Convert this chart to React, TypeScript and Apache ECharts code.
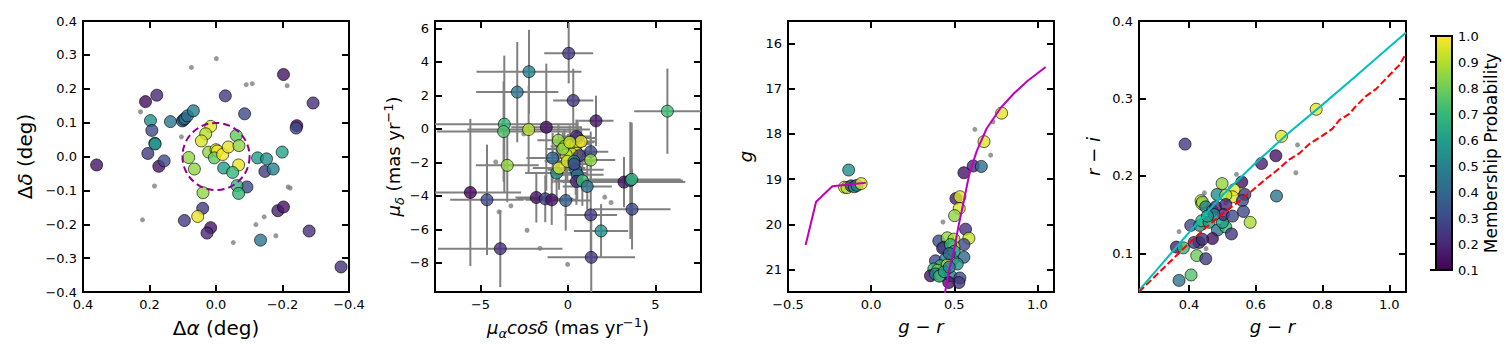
import React, { useEffect, useRef } from 'react';
import * as echarts from 'echarts';

// ---------------- data ----------------
// Panel 1: sky positions of candidate members [dRA, dDec, prob]
const posMembers: number[][] = [
  [0.359, -0.025, 0.15], [0.212, 0.162, 0.13], [0.178, 0.181, 0.2], [0.197, 0.106, 0.55],
  [0.193, 0.077, 0.3], [0.184, 0.039, 0.58], [0.183, 0.037, 0.55], [0.205, 0.009, 0.25],
  [0.172, -0.029, 0.15], [0.156, -0.013, 0.3], [0.137, 0.103, 0.45], [0.101, 0.105, 0.4],
  [0.097, 0.109, 0.4], [0.093, 0.112, 0.42], [0.086, 0.12, 0.42], [0.068, 0.135, 0.48],
  [-0.028, 0.179, 0.25], [-0.086, 0.126, 0.3], [-0.203, 0.242, 0.15], [-0.292, 0.158, 0.22],
  [-0.243, 0.091, 0.12], [-0.241, 0.084, 0.3], [0.016, 0.089, 0.97], [0.031, 0.067, 0.9],
  [0.044, 0.046, 0.95], [0.022, 0.013, 0.85], [0.0, 0.02, 0.95], [-0.004, 0.016, 0.98],
  [0.005, -0.004, 0.78], [-0.02, 0.006, 1.0], [-0.037, 0.028, 0.97], [-0.061, 0.062, 0.78],
  [-0.069, 0.032, 0.85], [-0.068, -0.025, 0.97], [-0.023, -0.034, 0.6], [-0.05, -0.047, 0.7],
  [0.082, -0.003, 0.85], [0.065, -0.037, 0.85], [-0.125, -0.004, 0.6], [-0.152, -0.007, 0.55],
  [-0.199, 0.013, 0.62], [-0.147, -0.044, 0.25], [-0.172, -0.037, 0.5], [-0.093, -0.09, 0.3],
  [-0.063, -0.086, 0.7], [-0.068, -0.109, 0.7], [0.039, -0.107, 0.85], [0.04, -0.153, 0.25],
  [0.055, -0.177, 0.97], [0.095, -0.189, 0.25], [0.016, -0.21, 0.15], [0.027, -0.226, 0.2],
  [-0.186, -0.16, 0.18], [-0.203, -0.149, 0.15], [-0.28, -0.22, 0.22], [-0.134, -0.247, 0.45],
  [-0.376, -0.326, 0.22],
];
const posField: number[][] = [
  [-0.001, 0.289], [0.074, 0.263], [-0.091, 0.212], [-0.109, 0.215], [-0.214, 0.209],
  [0.227, 0.132], [0.104, 0.058], [0.185, -0.087], [-0.217, -0.09], [-0.223, -0.093],
  [0.221, -0.187], [-0.052, -0.254], [-0.12, -0.201], [-0.145, -0.178], [-0.18, -0.234],
];
// dashed circle: [centre dRA, centre dDec, radius]
const tidalCircle: number[][] = [[0, 0, 0.1]];

// Panel 2: proper motions [pmra, pmdec, xerr, yerr, prob]
const pmMembers: number[][] = [
  [0.04, 4.52, 1.4, 1.8, 0.25], [-2.23, 3.42, 3.0, 2.5, 0.5], [-2.9, 2.2, 2.35, 3.0, 0.45],
  [0.3, 1.7, 1.15, 1.9, 0.25], [5.68, 1.06, 1.9, 2.55, 0.72], [1.6, 0.48, 1.0, 1.5, 0.15],
  [-3.64, 0.28, 4.2, 4.1, 0.7], [-3.68, -0.16, 3.8, 3.0, 0.75], [-2.25, -0.04, 3.5, 2.6, 0.9],
  [-1.24, 0.1, 2.0, 3.8, 0.15], [-3.47, -2.18, 1.8, 2.2, 0.85], [-5.58, -3.8, 2.9, 4.4, 0.12],
  [-4.63, -4.24, 2.1, 3.3, 0.3], [-1.81, -4.1, 1.2, 1.5, 0.15], [-1.3, -4.18, 1.6, 1.4, 0.28],
  [-0.93, -4.24, 1.5, 1.5, 0.15], [-0.13, -4.28, 1.4, 1.8, 0.38], [-3.87, -7.16, 3.55, 2.3, 0.22],
  [1.33, -7.68, 2.5, 2.5, 0.25], [1.3, -5.14, 1.5, 2.5, 0.25], [1.89, -6.1, 1.55, 1.6, 0.55],
  [3.66, -4.8, 2.2, 2.4, 0.3], [3.2, -3.18, 3.5, 1.5, 0.15], [3.56, -3.08, 3.0, 3.5, 0.35],
  [3.64, -3.02, 2.8, 3.4, 0.7],
  [-0.88, -1.74, 1.5, 1.5, 0.4], [-0.65, -2.64, 1.8, 1.6, 0.55], [-0.51, -2.34, 1.5, 1.3, 0.95],
  [-0.55, -0.68, 1.2, 1.0, 0.85], [-0.2, -1.05, 0.8, 1.0, 0.9], [0.0, -1.2, 0.8, 0.9, 0.97],
  [0.15, -1.0, 0.9, 0.9, 0.95], [0.3, -1.3, 0.7, 0.8, 1.0], [0.45, -0.9, 0.8, 0.8, 0.95],
  [0.6, -0.8, 0.9, 0.9, 0.98], [0.55, -0.55, 1.0, 1.1, 0.5], [0.48, -0.45, 0.8, 1.0, 0.2],
  [0.75, -0.75, 0.8, 0.9, 0.97], [0.5, -1.45, 0.7, 0.8, 0.95], [0.2, -1.5, 0.8, 0.9, 0.92],
  [-0.1, -1.55, 0.9, 1.0, 0.93], [0.65, -1.6, 0.9, 1.0, 0.25], [1.3, -1.36, 1.0, 1.2, 0.3],
  [1.3, -1.86, 1.4, 1.3, 0.85], [-0.04, -1.94, 1.3, 1.2, 0.95], [0.34, -1.94, 1.2, 1.4, 0.55],
  [0.44, -2.44, 1.6, 1.5, 0.45], [0.53, -2.74, 1.5, 1.5, 0.42], [0.48, -3.14, 1.3, 1.4, 0.2],
  [0.82, -3.1, 1.6, 1.5, 0.72], [1.1, -3.44, 1.4, 1.4, 0.45], [0.35, -2.1, 1.0, 1.2, 0.3],
  [-0.3, -1.2, 1.0, 1.0, 0.85], [0.1, -0.8, 0.9, 1.0, 0.93],
];
const pmField: number[][] = [
  [-4.13, -1.98], [-2.53, -0.3], [-3.94, -4.96], [-3.26, -4.6], [-2.34, -6.06],
  [-1.6, -7.14], [-0.02, -8.1], [2.1, -4.08], [2.46, -4.4],
];

// Panel 3: colour-magnitude diagram [g-r, g, prob]
const cmdMembers: number[][] = [
  [-0.16, 19.18, 0.95], [-0.145, 19.19, 0.9], [-0.12, 19.15, 0.25], [-0.1, 19.17, 0.55],
  [-0.085, 19.14, 0.45], [-0.06, 19.1, 0.95], [-0.135, 18.8, 0.55],
  [0.785, 17.54, 0.97], [0.679, 18.17, 0.95], [0.614, 18.71, 0.2], [0.663, 18.72, 0.42],
  [0.558, 18.86, 0.15], [0.51, 19.43, 0.18], [0.534, 19.39, 0.95], [0.53, 19.65, 0.95],
  [0.502, 19.81, 0.85], [0.568, 20.11, 0.22], [0.588, 20.31, 0.92], [0.407, 20.37, 0.3],
  [0.458, 20.3, 0.85], [0.498, 20.33, 0.9], [0.558, 20.45, 0.3], [0.437, 20.51, 0.65],
  [0.43, 20.53, 0.2], [0.498, 20.5, 0.95], [0.478, 20.45, 0.7], [0.558, 20.73, 0.4],
  [0.387, 20.81, 0.3], [0.448, 20.77, 0.5], [0.49, 20.78, 0.75], [0.417, 20.92, 0.7],
  [0.458, 20.9, 0.88], [0.518, 20.88, 0.55], [0.377, 20.99, 0.7], [0.4, 21.02, 0.8],
  [0.357, 21.14, 0.15], [0.387, 21.1, 0.5], [0.42, 21.13, 0.88], [0.478, 21.14, 0.45],
  [0.534, 21.19, 0.3], [0.528, 21.29, 0.25], [0.467, 21.29, 0.15], [0.41, 21.15, 0.65],
  [0.44, 21.05, 0.6], [0.47, 20.95, 0.5], [0.5, 20.6, 0.6], [0.47, 20.65, 0.4],
];
const cmdField: number[][] = [[0.624, 17.9], [0.733, 17.73], [0.719, 18.47], [0.432, 19.95]];
const isoHB: number[][] = [[-0.394, 20.46], [-0.331, 19.5], [-0.233, 19.16], [-0.032, 19.08]];
const isoRGB: number[][] = [
  [0.435, 21.7], [0.47, 21.0], [0.498, 20.59], [0.525, 20.05], [0.558, 19.48], [0.59, 18.9],
  [0.635, 18.38], [0.695, 17.88], [0.78, 17.42], [0.86, 17.1], [0.94, 16.83], [1.05, 16.52],
];

// Panel 4: colour-colour diagram [g-r, r-i, prob]
const ccMembers: number[][] = [
  [0.388, 0.241, 0.25], [0.781, 0.286, 0.97], [0.677, 0.251, 0.95], [0.66, 0.226, 0.15],
  [0.617, 0.216, 0.18], [0.662, 0.174, 0.45], [0.499, 0.19, 0.85], [0.558, 0.192, 0.15],
  [0.535, 0.182, 0.97], [0.53, 0.173, 0.95], [0.567, 0.176, 0.25], [0.56, 0.168, 0.3],
  [0.484, 0.176, 0.55], [0.51, 0.175, 0.9], [0.436, 0.168, 0.93], [0.438, 0.164, 0.9],
  [0.44, 0.166, 0.85], [0.45, 0.16, 0.5], [0.47, 0.155, 0.45], [0.48, 0.16, 0.2],
  [0.51, 0.163, 0.2], [0.583, 0.14, 0.88], [0.563, 0.154, 0.3], [0.405, 0.136, 0.3],
  [0.432, 0.136, 0.55], [0.438, 0.142, 0.7], [0.46, 0.14, 0.62], [0.485, 0.13, 0.45],
  [0.51, 0.134, 0.7], [0.5, 0.14, 0.6], [0.527, 0.125, 0.25], [0.503, 0.15, 0.2],
  [0.53, 0.148, 0.3], [0.47, 0.119, 0.15], [0.43, 0.114, 0.2], [0.415, 0.114, 0.25],
  [0.44, 0.118, 0.22], [0.362, 0.108, 0.18], [0.383, 0.107, 0.7], [0.423, 0.097, 0.8],
  [0.45, 0.093, 0.25], [0.406, 0.072, 0.75], [0.37, 0.065, 0.45], [0.475, 0.15, 0.5],
  [0.455, 0.148, 0.6],
];
const ccField: number[][] = [
  [0.542, 0.202], [0.446, 0.178], [0.37, 0.128], [0.451, 0.106], [0.725, 0.24], [0.72, 0.204], [0.51, 0.165],
];
const ccCyan: number[][] = [
  [0.25, 0.052], [0.3, 0.077], [0.4, 0.127], [0.5, 0.175], [0.6, 0.217], [0.7, 0.256],
  [0.8, 0.292], [0.9, 0.329], [1.05, 0.385],
];
const ccRed: number[][] = [
  [0.25, 0.05], [0.3, 0.071], [0.35, 0.092], [0.4, 0.113], [0.45, 0.133], [0.5, 0.151],
  [0.55, 0.167], [0.6, 0.185], [0.63, 0.196], [0.66, 0.206], [0.7, 0.221], [0.73, 0.229],
  [0.76, 0.241], [0.8, 0.252], [0.83, 0.261], [0.85, 0.272], [0.88, 0.28], [0.9, 0.29],
  [0.93, 0.303], [0.96, 0.312], [1.0, 0.33], [1.03, 0.343], [1.05, 0.358],
];

// tick values
const p1TicksX = [-0.4, -0.2, 0, 0.2, 0.4];
const p1TicksY = [-0.4, -0.3, -0.2, -0.1, 0, 0.1, 0.2, 0.3, 0.4];
const p2TicksX = [-5, 0, 5];
const p2TicksY = [-8, -6, -4, -2, 0, 2, 4, 6];
const p3TicksX = [-0.5, 0, 0.5, 1.0];
const p3TicksY = [16, 17, 18, 19, 20, 21];
const p4TicksX = [0.4, 0.6, 0.8, 1.0];
const p4TicksY = [0.1, 0.2, 0.3, 0.4];
const cbTicks = [0.1, 0.2, 0.3, 0.4, 0.5, 0.6, 0.7, 0.8, 0.9, 1.0];
const P_MIN = 0.1;
const P_MAX = 1.0;

// ---------------- helpers ----------------
const VIRIDIS = ['#440154', '#482878', '#3e4a89', '#31688e', '#26828e', '#1f9e89', '#35b779', '#6dcd59', '#b4de2c', '#fde725'];
const hex = (h: string) => [parseInt(h.slice(1, 3), 16), parseInt(h.slice(3, 5), 16), parseInt(h.slice(5, 7), 16)];
function viridis(p: number): string {
  let t = (p - P_MIN) / (P_MAX - P_MIN);
  t = Math.max(0, Math.min(1, t));
  const s = t * (VIRIDIS.length - 1);
  const i = Math.min(Math.floor(s), VIRIDIS.length - 2);
  const f = s - i;
  const a = hex(VIRIDIS[i]);
  const b = hex(VIRIDIS[i + 1]);
  const c = a.map((v, k) => Math.round(v + (b[k] - v) * f));
  return `rgb(${c[0]},${c[1]},${c[2]})`;
}
const FONT = 'DejaVu Sans';
const minus = (s: string) => s.replace('-', '\u2212');
const fmt1 = (v: number) => minus((Math.abs(v) < 1e-9 ? 0 : v).toFixed(1));
const fmt0 = (v: number) => minus(String(Math.round(v)));

const makeRich = (size: number) => ({
  t: { fontFamily: FONT, fontSize: size, color: '#000', lineHeight: size + 6 },
  i: { fontFamily: FONT, fontSize: size, fontStyle: 'italic', color: '#000', lineHeight: size + 6 },
  sub: { fontFamily: FONT, fontSize: 13, fontStyle: 'italic', color: '#000', lineHeight: 14, verticalAlign: 'bottom' },
  sup: { fontFamily: FONT, fontSize: 13, color: '#000', lineHeight: 14, verticalAlign: 'top' },
});

function axisPair(dim: 'x' | 'y', gridIndex: number, min: number, max: number, ticks: number[], fmt: (v: number) => string,
  name: string, nameGap: number, inverse = false, nameSize = 18) {
  const base: any = {
    type: 'value', gridIndex, min, max, inverse,
    axisLine: { show: true, onZero: false, lineStyle: { color: '#000', width: 2 } },
    axisTick: { show: true, inside: true, length: 7, lineStyle: { color: '#000', width: 2 }, customValues: ticks },
    splitLine: { show: false },
  };
  const main = {
    ...base,
    position: dim === 'x' ? 'bottom' : 'left',
    axisLabel: { show: true, customValues: ticks, formatter: fmt, fontFamily: FONT, fontSize: 13, color: '#000', margin: 6 },
    name, nameLocation: 'middle', nameGap,
    nameTextStyle: { fontFamily: FONT, fontSize: nameSize, color: '#000', rich: makeRich(nameSize) },
  };
  const twin = { ...base, position: dim === 'x' ? 'top' : 'right', axisLabel: { show: false } };
  return [main, twin];
}

const memberStyle = {
  color: (p: any) => viridis(p.value[2]),
  borderColor: '#000',
  borderWidth: 0.8,
  opacity: 0.8,
};
const fieldStyle = { color: '#808080' };

export default function App() {
  const ref = useRef<HTMLDivElement>(null);
  useEffect(() => {
    if (!ref.current) return;
    const chart = echarts.init(ref.current, null, { renderer: 'svg' });
    const grids = [
      { left: 83, top: 21, width: 266, height: 271 },
      { left: 435, top: 21, width: 266, height: 271 },
      { left: 788, top: 21, width: 266, height: 271 },
      { left: 1139, top: 21, width: 267, height: 271 },
      { left: 1436, top: 36, width: 16, height: 234 },
    ];
    const xAxis = [
      ...axisPair('x', 0, -0.4, 0.4, p1TicksX, fmt1, '{t|Δ}{i|α}{t| (deg)}', 23, true, 20),
      ...axisPair('x', 1, -7.6, 7.6, p2TicksX, fmt0, '{i|μ}{sub|α}{i|cosδ}{t| (mas yr}{sup|−1}{t|)}', 22),
      ...axisPair('x', 2, -0.5, 1.1, p3TicksX, fmt1, '{i|g}{t| − }{i|r}', 22),
      ...axisPair('x', 3, 0.25, 1.05, p4TicksX, fmt1, '{i|g}{t| − }{i|r}', 22),
      { type: 'value', gridIndex: 4, min: 0, max: 1, show: false },
    ];
    const yAxis: any[] = [
      ...axisPair('y', 0, -0.4, 0.4, p1TicksY, fmt1, '{t|Δ}{i|δ}{t| (deg)}', 45, false, 20),
      ...axisPair('y', 1, -9.75, 6.45, p2TicksY, fmt0, '{i|μ}{sub|δ}{t| (mas yr}{sup|−1}{t|)}', 28),
      ...axisPair('y', 2, 15.5, 21.5, p3TicksY, fmt0, '{i|g}', 31, true),
      ...axisPair('y', 3, 0.05, 0.4, p4TicksY, fmt1, '{i|r}{t| − }{i|i}', 34),
      {
        type: 'value', gridIndex: 4, min: P_MIN, max: P_MAX, position: 'right', z: 10,
        axisLine: { show: false },
        axisTick: { show: true, inside: true, length: 6, lineStyle: { color: '#000', width: 2 }, customValues: cbTicks },
        axisLabel: { show: true, customValues: cbTicks, formatter: fmt1, fontFamily: FONT, fontSize: 13, color: '#000', margin: 6 },
        splitLine: { show: false },
        name: 'Membership Probability', nameLocation: 'middle', nameGap: 30,
        nameTextStyle: { fontFamily: FONT, fontSize: 17, color: '#000' },
      },
    ];
    const stops = VIRIDIS.map((c, i) => ({ offset: i / (VIRIDIS.length - 1), color: c }));
    const option: any = {
      animation: false,
      textStyle: { fontFamily: FONT },
      grid: grids,
      xAxis,
      yAxis,
      series: [
        // panel 1
        { type: 'scatter', xAxisIndex: 0, yAxisIndex: 0, data: posField, symbolSize: 5, itemStyle: fieldStyle, z: 2 },
        { type: 'scatter', xAxisIndex: 0, yAxisIndex: 0, data: posMembers, symbolSize: 12, itemStyle: memberStyle, z: 3 },
        {
          type: 'custom', xAxisIndex: 0, yAxisIndex: 0, data: tidalCircle, z: 4, silent: true,
          renderItem: (params: any, api: any) => {
            const c = api.coord([api.value(0), api.value(1)]);
            const s = api.size([api.value(2), api.value(2)]);
            const r = (Math.abs(s[0]) + Math.abs(s[1])) / 2;
            return { type: 'circle', shape: { cx: c[0], cy: c[1], r }, style: { fill: null, stroke: '#8b008b', lineWidth: 2, lineDash: [7, 4] } };
          },
        },
        // panel 2
        {
          type: 'custom', xAxisIndex: 2, yAxisIndex: 2, data: pmMembers, z: 2, clip: true, silent: true,
          renderItem: (params: any, api: any) => {
            const x = api.value(0), y = api.value(1), ex = api.value(2), ey = api.value(3);
            const l = api.coord([x - ex, y]), r = api.coord([x + ex, y]);
            const t = api.coord([x, y + ey]), b = api.coord([x, y - ey]);
            const st = { stroke: '#808080', lineWidth: 2 };
            return {
              type: 'group', children: [
                { type: 'line', shape: { x1: l[0], y1: l[1], x2: r[0], y2: r[1] }, style: st },
                { type: 'line', shape: { x1: t[0], y1: t[1], x2: b[0], y2: b[1] }, style: st },
              ],
            };
          },
        },
        { type: 'scatter', xAxisIndex: 2, yAxisIndex: 2, data: pmField, symbolSize: 5, itemStyle: fieldStyle, z: 2 },
        { type: 'scatter', xAxisIndex: 2, yAxisIndex: 2, data: pmMembers.map((d) => [d[0], d[1], d[4]]), symbolSize: 12, itemStyle: memberStyle, z: 3 },
        // panel 3
        { type: 'scatter', xAxisIndex: 4, yAxisIndex: 4, data: cmdField, symbolSize: 5, itemStyle: fieldStyle, z: 2 },
        { type: 'scatter', xAxisIndex: 4, yAxisIndex: 4, data: cmdMembers, symbolSize: 12, itemStyle: memberStyle, z: 3 },
        { type: 'line', xAxisIndex: 4, yAxisIndex: 4, data: isoHB, symbol: 'none', lineStyle: { color: '#bf00bf', width: 2 }, z: 4, clip: true },
        { type: 'line', xAxisIndex: 4, yAxisIndex: 4, data: isoRGB, symbol: 'none', lineStyle: { color: '#bf00bf', width: 2 }, z: 4, clip: true },
        // panel 4
        { type: 'scatter', xAxisIndex: 6, yAxisIndex: 6, data: ccField, symbolSize: 5, itemStyle: fieldStyle, z: 2 },
        { type: 'scatter', xAxisIndex: 6, yAxisIndex: 6, data: ccMembers, symbolSize: 12, itemStyle: memberStyle, z: 3 },
        { type: 'line', xAxisIndex: 6, yAxisIndex: 6, data: ccCyan, symbol: 'none', lineStyle: { color: '#00bfbf', width: 2 }, z: 4, clip: true },
        { type: 'line', xAxisIndex: 6, yAxisIndex: 6, data: ccRed, symbol: 'none', lineStyle: { color: '#ff0000', width: 2, type: [7, 3] }, z: 4, clip: true },
        // colorbar
        {
          type: 'custom', xAxisIndex: 8, yAxisIndex: 8, data: [[0, P_MIN, 1, P_MAX]], z: 1, silent: true,
          renderItem: (params: any, api: any) => {
            const a = api.coord([api.value(0), api.value(1)]);
            const b = api.coord([api.value(2), api.value(3)]);
            return {
              type: 'rect',
              shape: { x: Math.min(a[0], b[0]), y: Math.min(a[1], b[1]), width: Math.abs(b[0] - a[0]), height: Math.abs(b[1] - a[1]) },
              style: { fill: new echarts.graphic.LinearGradient(0, 1, 0, 0, stops), stroke: '#000', lineWidth: 2 },
            };
          },
        },
      ],
    };
    chart.setOption(option);
    return () => chart.dispose();
  }, []);
  return <div ref={ref} style={{ position: 'fixed', left: 0, top: 0, width: 1512, height: 360, background: '#fff' }} />;
}
